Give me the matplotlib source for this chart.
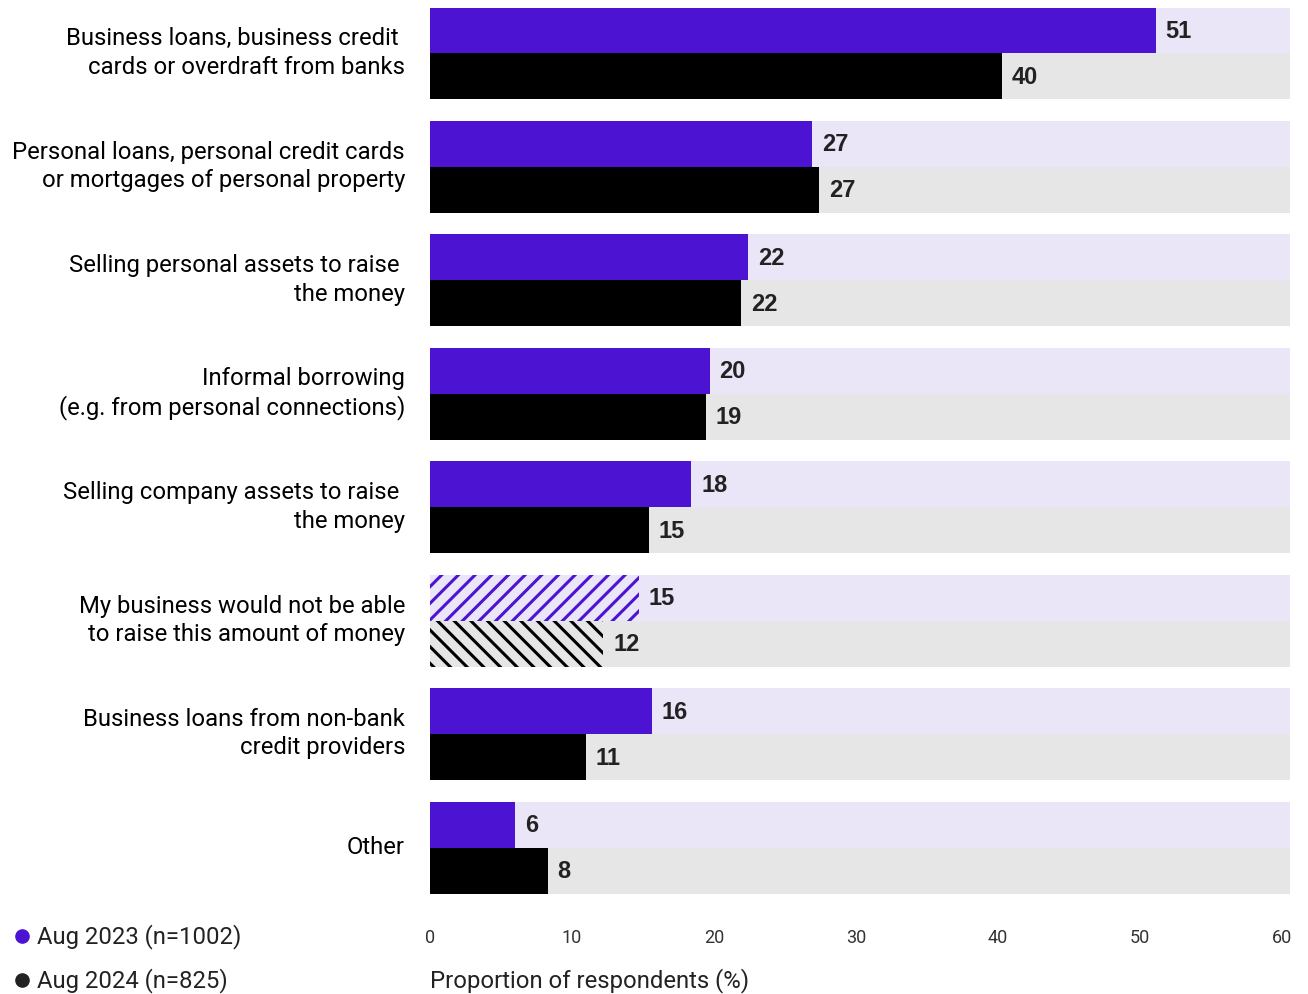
import matplotlib.pyplot as plt
from matplotlib.lines import Line2D

# ---------------------------------------------------------
# data
# ---------------------------------------------------------
categories = [
    "Business loans, business credit \ncards or overdraft from banks",
    "Personal loans, personal credit cards\nor mortgages of personal property",
    "Selling personal assets to raise \nthe money",
    "Informal borrowing\n(e.g. from personal connections)",
    "Selling company assets to raise \nthe money",
    "My business would not be able\nto raise this amount of money",
    "Business loans from non-bank\ncredit providers",
    "Other",
]
aug_2023 = [51.1, 26.9, 22.4, 19.7, 18.4, 14.7, 15.6, 6.0]
aug_2024 = [40.3, 27.4, 21.9, 19.4, 15.4, 12.2, 11.0, 8.3]
hatched = [False, False, False, False, False, True, False, False]
series_names = ["Aug 2023 (n=1002)", "Aug 2024 (n=825)"]
xticks = [0, 10, 20, 30, 40, 50, 60]

# ---------------------------------------------------------
# style
# ---------------------------------------------------------
PURPLE = "#4C14D2"
BLACK = "#000000"
LAV = "#EAE6F8"
GREY = "#E6E6E6"
TXT = "#222222"

plt.rcParams['font.family'] = ['Roboto', 'DejaVu Sans']
plt.rcParams['hatch.linewidth'] = 2.2

fig = plt.figure(figsize=(13.08, 9.95), dpi=100)
ax = fig.add_axes([430/1308, 1 - 894.5/995, 860/1308, 886/995])

xmax = 60.55
h = 0.4053
for i, (a, b, hat) in enumerate(zip(aug_2023, aug_2024, hatched)):
    ya, yb = i - h/2, i + h/2
    ax.barh(ya, xmax, height=h, color=LAV, lw=0, zorder=1)
    ax.barh(yb, xmax, height=h, color=GREY, lw=0, zorder=1)
    if hat:
        ax.barh(ya, a, height=h, facecolor=LAV, edgecolor=PURPLE,
                hatch='//', lw=0, zorder=2)
        ax.barh(yb, b, height=h, facecolor=GREY, edgecolor=BLACK,
                hatch='\\\\', lw=0, zorder=2)
    else:
        ax.barh(ya, a, height=h, color=PURPLE, lw=0, zorder=2)
        ax.barh(yb, b, height=h, color=BLACK, lw=0, zorder=2)
    for v, y in ((a, ya), (b, yb)):
        ax.annotate(f"{v:.0f}", (v, y), xytext=(7, 0), textcoords='offset points',
                    ha='left', va='center', fontsize=17, fontweight='bold',
                    family=['Liberation Sans', 'DejaVu Sans'],
                    color=TXT, zorder=3)

ax.set_xlim(0, xmax)
ax.set_ylim(len(categories) - 1 + h, -h)
# labels sit a touch above the group centre
ax.set_yticks([i - 0.012 for i in range(len(categories))])
ax.set_yticklabels(categories, fontsize=17.2, color=BLACK, linespacing=1.3)
for lab in ax.get_yticklabels():
    lab.set_va('center')
ax.set_xticks(xticks)
ax.set_xticklabels([str(t) for t in xticks], fontsize=13, color="#333333")
ax.tick_params(axis='both', length=0)
ax.tick_params(axis='x', pad=25)
ax.tick_params(axis='y', pad=18)
for s in ax.spines.values():
    s.set_visible(False)

fig.text(430/1308, 1 - 981/995, "Proportion of respondents (%)",
         fontsize=17.2, color=TXT, ha='left', va='center')

# legend on the left
for (name, col, ypx) in zip(series_names, [PURPLE, "#222222"], [937, 981]):
    fig.add_artist(Line2D([22/1308], [1 - ypx/995], marker='o', markersize=9.5,
                          color=col, transform=fig.transFigure))
    fig.text(37/1308, 1 - ypx/995, name, fontsize=17.2, color=TXT,
             ha='left', va='center')

fig.savefig("out.png", dpi=100)
